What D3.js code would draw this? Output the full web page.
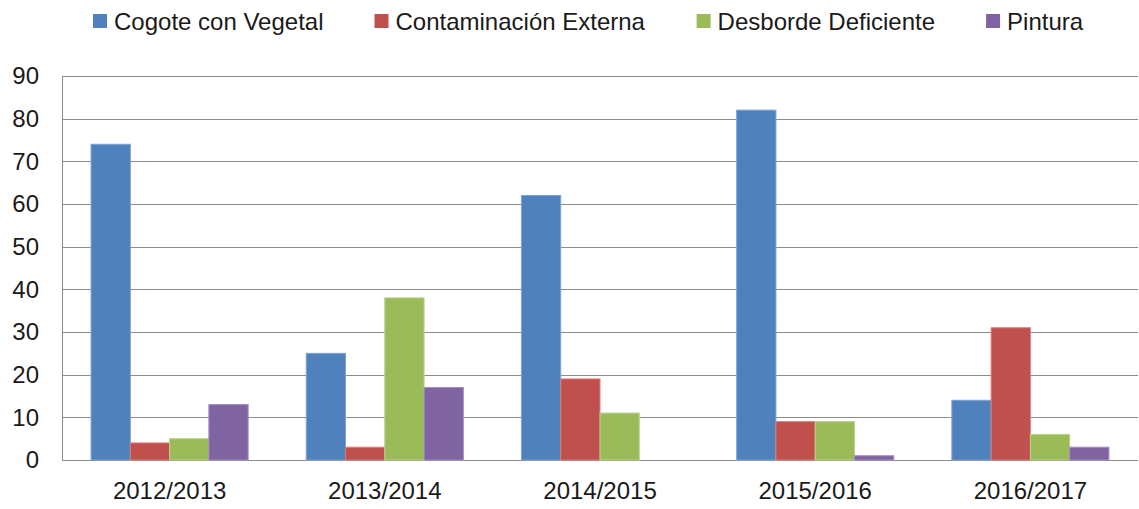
<!DOCTYPE html>
<html>
<head>
<meta charset="utf-8">
<script src="https://cdn.jsdelivr.net/npm/d3@7"></script>
<style>
  body { margin: 0; background: #fff; }
  text { font-family: "Liberation Sans", Arial, sans-serif; fill: #1a1a1a; }
</style>
</head>
<body>
<div id="chart"></div>
<script>
// data
var seasons = ["2012/2013", "2013/2014", "2014/2015", "2015/2016", "2016/2017"];
var seriesNames = ["Cogote con Vegetal", "Contaminación Externa", "Desborde Deficiente", "Pintura"];
var cogote = [74, 25, 62, 82, 14];
var contaminacion = [4, 3, 19, 9, 31];
var desborde = [5, 38, 11, 9, 6];
var pintura = [13, 17, 0, 1, 3];
var yTicks = [0, 10, 20, 30, 40, 50, 60, 70, 80, 90];

var colors = ["#4F81BD", "#C0504D", "#9BBB59", "#8064A2"];
var edges = ["#7FA3D4", "#D8807D", "#BAD28A", "#A58FC2"];

var svgWidth = 1139;
var svgHeight = 509;
var margin = { top: 76, right: 1, bottom: 49, left: 62 };
var width = svgWidth - margin.left - margin.right;
var height = svgHeight - margin.top - margin.bottom;

var svg = d3.select("#chart")
  .append("svg")
  .attr("width", svgWidth)
  .attr("height", svgHeight);

var chartGroup = svg.append("g")
  .attr("transform", `translate(${margin.left}, ${margin.top})`);

var values = [cogote, contaminacion, desborde, pintura];
var rows = seasons.map(function(s, i) {
  return { season: s, vals: values.map(function(v) { return v[i]; }) };
});

var x0 = d3.scaleBand()
  .domain(seasons)
  .range([0, width])
  .padding(0);

var x1 = d3.scaleBand()
  .domain(d3.range(seriesNames.length))
  .range([x0.bandwidth() * 0.135, x0.bandwidth() * 0.865])
  .padding(0);

var y = d3.scaleLinear()
  .domain([0, 90])
  .range([height, 0]);

// gridlines
chartGroup.append("g")
  .selectAll("line")
  .data(yTicks)
  .enter()
  .append("line")
  .attr("x1", 0)
  .attr("x2", width)
  .attr("y1", d => Math.round(y(d)) + 0.5)
  .attr("y2", d => Math.round(y(d)) + 0.5)
  .attr("stroke", "#8c8c8c")
  .attr("stroke-width", 1);

// left axis line
chartGroup.append("line")
  .attr("x1", 0.5).attr("x2", 0.5)
  .attr("y1", 0).attr("y2", height + 0.5)
  .attr("stroke", "#8c8c8c");

// bars
var groups = chartGroup.selectAll(".season")
  .data(rows)
  .enter()
  .append("g")
  .attr("transform", d => `translate(${x0(d.season)}, 0)`);

groups.selectAll("rect")
  .data(d => d.vals.map((v, k) => ({ v: v, k: k })).filter(d => d.v > 0))
  .enter()
  .append("rect")
  .attr("x", d => x1(d.k))
  .attr("y", d => y(d.v))
  .attr("width", x1.bandwidth())
  .attr("height", d => height - y(d.v))
  .attr("fill", d => colors[d.k])
  .attr("stroke", d => edges[d.k])
  .attr("stroke-width", 1);

// y axis labels
var yAxis = d3.axisLeft(y).tickValues(yTicks).tickSize(0).tickPadding(23);
var yg = chartGroup.append("g").call(yAxis);
yg.select(".domain").remove();
yg.selectAll("text")
  .attr("font-size", "24px")
  .attr("font-family", "Liberation Sans, Arial, sans-serif")
  .attr("fill", "#1a1a1a");

// x axis labels
var xAxis = d3.axisBottom(x0).tickSize(0).tickPadding(22);
var xg = chartGroup.append("g")
  .attr("transform", `translate(0, ${height})`)
  .call(xAxis);
xg.select(".domain").remove();
xg.selectAll("text")
  .attr("font-size", "24px")
  .attr("font-family", "Liberation Sans, Arial, sans-serif")
  .attr("fill", "#1a1a1a");

// legend
var legend = svg.append("g");
var items = legend.selectAll("g")
  .data(seriesNames)
  .enter()
  .append("g");

items.append("rect")
  .attr("width", 14)
  .attr("height", 14)
  .attr("y", 14)
  .attr("fill", (d, i) => colors[i]);

items.append("text")
  .attr("x", 21)
  .attr("y", 30)
  .attr("font-size", "24px")
  .text(d => d);

var gap = 51;
var pos = 0;
items.each(function() {
  var w = this.getBBox().width;
  d3.select(this).attr("transform", `translate(${pos}, 0)`);
  pos += w + gap;
});
var totalW = pos - gap;
legend.attr("transform", `translate(${Math.round(588 - totalW / 2)}, 0)`);
</script>
</body>
</html>
